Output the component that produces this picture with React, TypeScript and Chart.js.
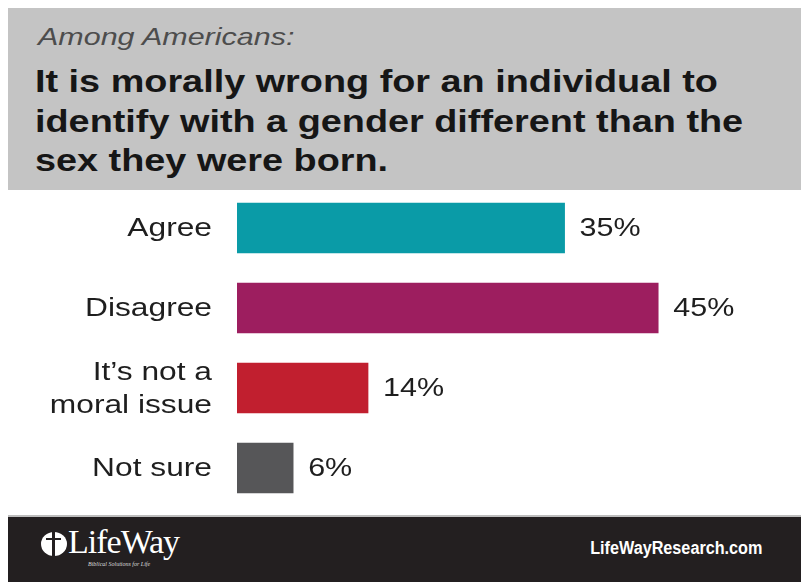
import React, { useEffect, useRef } from "react";
import { Chart, registerables } from "chart.js";

Chart.register(...registerables);

const categories: (string | string[])[] = ["Agree", "Disagree", ["It\u2019s not a", "moral issue"], "Not sure"];
const values: number[] = [35, 45, 14, 6];
const barColors: string[] = ["#0a9ba7", "#9d1e5f", "#c11f2f", "#565658"];
const subtitle = "Among Americans:";
const titleLines: string[] = [
  "It is morally wrong for an individual to",
  "identify with a gender different than the",
  "sex they were born.",
];
const footerRight = "LifeWayResearch.com";

const FONT = "'Liberation Sans', Arial, sans-serif";
const STRETCH = 1.22;

const labelPlugin = {
  id: "customLabels",
  afterDatasetsDraw(chart: any) {
    const ctx = chart.ctx;
    const meta = chart.getDatasetMeta(0);
    const yScale = chart.scales.y;
    const left = chart.chartArea.left;
    ctx.save();
    ctx.fillStyle = "#1e1e1e";
    ctx.textBaseline = "middle";
    // category labels
    ctx.font = "26px " + FONT;
    ctx.textAlign = "right";
    categories.forEach((lab, i) => {
      const lines = Array.isArray(lab) ? lab : [lab];
      const cy = yScale.getPixelForValue(i);
      const lh = 33;
      const y0 = cy - ((lines.length - 1) * lh) / 2 + 1;
      lines.forEach((ln, k) => {
        ctx.save();
        ctx.translate(left - 25, y0 + k * lh);
        ctx.scale(STRETCH, 1);
        ctx.fillText(ln, 0, 0);
        ctx.restore();
      });
    });
    // value labels
    ctx.font = "25px " + FONT;
    ctx.textAlign = "left";
    meta.data.forEach((bar: any, i: number) => {
      ctx.save();
      ctx.translate(bar.x + 15, bar.y + 1);
      ctx.scale(STRETCH, 1);
      ctx.fillText(values[i] + "%", 0, 0);
      ctx.restore();
    });
    ctx.restore();
  },
};

export default function App() {
  const ref = useRef<HTMLCanvasElement>(null);
  useEffect(() => {
    if (!ref.current) return;
    const chart = new Chart(ref.current, {
      type: "bar",
      data: {
        labels: categories as any,
        datasets: [
          {
            data: values,
            backgroundColor: barColors,
            borderWidth: 0,
            barThickness: 50,
          },
        ],
      },
      options: {
        indexAxis: "y",
        animation: false,
        responsive: false,
        maintainAspectRatio: false,
        layout: { padding: { left: 0, right: 104, top: 0, bottom: 0 } },
        plugins: { legend: { display: false }, tooltip: { enabled: false } },
        scales: {
          x: { display: false, min: 0, max: 50 },
          y: {
            afterFit(scale: any) {
              scale.width = 229;
            },
            grid: { display: false, drawTicks: false },
            border: { display: false },
            ticks: { display: false },
          },
        },
      },
      plugins: [labelPlugin],
    });
    return () => chart.destroy();
  }, []);

  return (
    <div style={{ position: "relative", width: 801, height: 574, background: "#fff", overflow: "hidden" }}>
      <div
        style={{
          position: "absolute",
          left: 0,
          top: 0,
          width: 801,
          height: 182,
          background: "#c4c4c4",
        }}
      >
        <div
          style={{
            position: "absolute",
            left: 30,
            top: 15,
            fontFamily: FONT,
            fontStyle: "italic",
            fontSize: 24,
            lineHeight: "28px",
            color: "#4d4d4d",
            whiteSpace: "nowrap",
            transform: "scaleX(1.27)",
            transformOrigin: "0 0",
          }}
        >
          {subtitle}
        </div>
        <div
          style={{
            position: "absolute",
            left: 27,
            top: 54,
            fontFamily: FONT,
            fontWeight: "bold",
            fontSize: 31,
            lineHeight: "39.5px",
            color: "#161616",
            whiteSpace: "nowrap",
            transform: "scaleX(" + STRETCH + ")",
            transformOrigin: "0 0",
          }}
        >
          {titleLines.map((l, i) => (
            <div key={i}>{l}</div>
          ))}
        </div>
      </div>
      <canvas
        ref={ref}
        width={801}
        height={320}
        style={{ position: "absolute", left: 0, top: 180, width: 801, height: 320 }}
      />
      <div style={{ position: "absolute", left: 0, top: 507, width: 801, height: 2, background: "#bdbdbd" }} />
      <div
        style={{
          position: "absolute",
          left: 0,
          top: 509,
          width: 801,
          height: 65,
          background: "#231f20",
        }}
      >
        <div
          style={{
            position: "absolute",
            left: 33,
            top: 15,
            width: 26,
            height: 24,
            borderRadius: "50%",
            background: "#fff",
          }}
        >
          <div style={{ position: "absolute", left: 11, top: -2, width: 3, height: 28, background: "#231f20" }} />
          <div style={{ position: "absolute", left: 5, top: 6, width: 15, height: 2, background: "#231f20" }} />
        </div>
        <div
          style={{
            position: "absolute",
            left: 60,
            top: 6,
            fontFamily: "'Liberation Serif', 'Times New Roman', serif",
            fontSize: 34,
            color: "#fff",
            letterSpacing: -1,
            whiteSpace: "nowrap",
          }}
        >
          LifeWay
        </div>
        <div
          style={{
            position: "absolute",
            left: 80,
            top: 44,
            fontFamily: "'Liberation Serif', serif",
            fontStyle: "italic",
            fontSize: 6,
            color: "#ddd",
            whiteSpace: "nowrap",
          }}
        >
          Biblical Solutions for Life
        </div>
        <div
          style={{
            position: "absolute",
            right: 47,
            top: 21,
            fontFamily: FONT,
            fontWeight: "bold",
            fontSize: 18,
            color: "#fff",
            whiteSpace: "nowrap",
            transform: "scaleX(0.9)",
            transformOrigin: "100% 0",
          }}
        >
          {footerRight}
        </div>
      </div>
    </div>
  );
}
